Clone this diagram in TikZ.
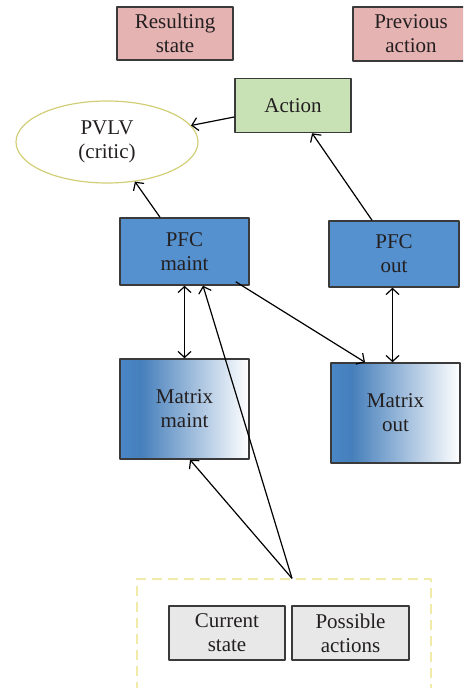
\documentclass[tikz,border=0pt]{standalone}
\usepackage{fontspec}
\setmainfont{Liberation Serif}
\usetikzlibrary{shapes.geometric,arrows.meta}
\definecolor{pinkbox}{HTML}{E6B3B3}
\definecolor{greenbox}{HTML}{C8E2B6}
\definecolor{bluebox}{HTML}{5591CE}
\definecolor{matrixblue}{HTML}{4A87C7}
\definecolor{graybox}{HTML}{E8E8E8}
\definecolor{rimline}{HTML}{3A3A3A}
\definecolor{critic}{HTML}{D2CE78}
\definecolor{inputrim}{HTML}{F0EBA6}
\definecolor{textcol}{HTML}{231F20}
\pgfdeclarehorizontalshading{matrixshade}{100bp}{color(0bp)=(matrixblue); color(25bp)=(matrixblue); color(33bp)=(matrixblue!94!black); color(75bp)=(white); color(100bp)=(white)}
\begin{document}
\begin{tikzpicture}[x=.5pt, y=-.5pt, line join=round, >={Straight Barb[length=3pt,width=6.5pt]}]
	\tikzset{every node/.style={font=\fontsize{10.5}{12}\selectfont, text=textcol, align=center, inner sep=0pt},
		box/.style={draw=rimline, line width=.75pt, rectangle},
		link/.style={->, line width=.6pt, black}}
	\clip (0,0) rectangle (463,688);
	\def\w{64.5pt} \def\hs{27pt}
	\node[box, fill=pinkbox, minimum width=58pt, minimum height=26.5pt] (res) at (175,33.5) {Resulting\\state};
	\node[box, fill=pinkbox, minimum width=58pt, minimum height=27pt] (prev) at (411,34) {Previous\\action};
	\node[box, fill=greenbox, minimum width=58pt, minimum height=\hs] (act) at (293,105.5) {Action};
	\node[draw=critic, line width=.6pt, ellipse, minimum width=91pt, minimum height=41pt] (pvlv) at (107,142) {PVLV\\(critic)};
	\node[box, fill=bluebox, minimum width=\w, minimum height=33.5pt] (pfcm) at (184.5,251.5) {PFC\\maint};
	\node[box, fill=bluebox, minimum width=65pt, minimum height=33pt] (pfco) at (394,254) {PFC\\out};
	\node[box, shading=matrixshade, minimum width=\w, minimum height=50pt] (matm) at (184.5,409) {Matrix\\maint};
	\node[box, shading=matrixshade, minimum width=\w, minimum height=50pt] (mato) at (395.5,413) {Matrix\\out};
	\node[draw=inputrim, dashed, dash pattern=on 5pt off 3pt, line width=.6pt, minimum width=147pt, minimum height=70.5pt] (inp) at (284,649.5) {};
	\node[box, fill=graybox, minimum width=58pt, minimum height=\hs] (cur) at (227,633) {Current\\state};
	\node[box, fill=graybox, minimum width=58.5pt, minimum height=\hs] (poss) at (350.5,633) {Possible\\actions};
	\path ([xshift=4pt]inp.north) coordinate (src)
	([xshift=-7pt,yshift=2pt]pfcm.south east) coordinate (fork);
	\draw[link] ([yshift=-5.75pt]act.west) -- (pvlv);
	\draw[link] ([xshift=-12.25pt]pfcm.north) -- (pvlv);
	\draw[link] ([xshift=-11pt]pfco.north) -- (act);
	\draw[link, <->] (pfcm) -- (matm);
	\draw[link, <->] ([xshift=-.75pt]pfco.south) -- ([xshift=-.75pt]pfco.south |- mato.north);
	\draw[link] (fork) -- ([xshift=-15.25pt]mato.north);
	\draw[link] (src) -- ([xshift=9.25pt]pfcm.south);
	\draw[link] (src) -- ([xshift=2.75pt]matm.south);
\end{tikzpicture}
\end{document}
